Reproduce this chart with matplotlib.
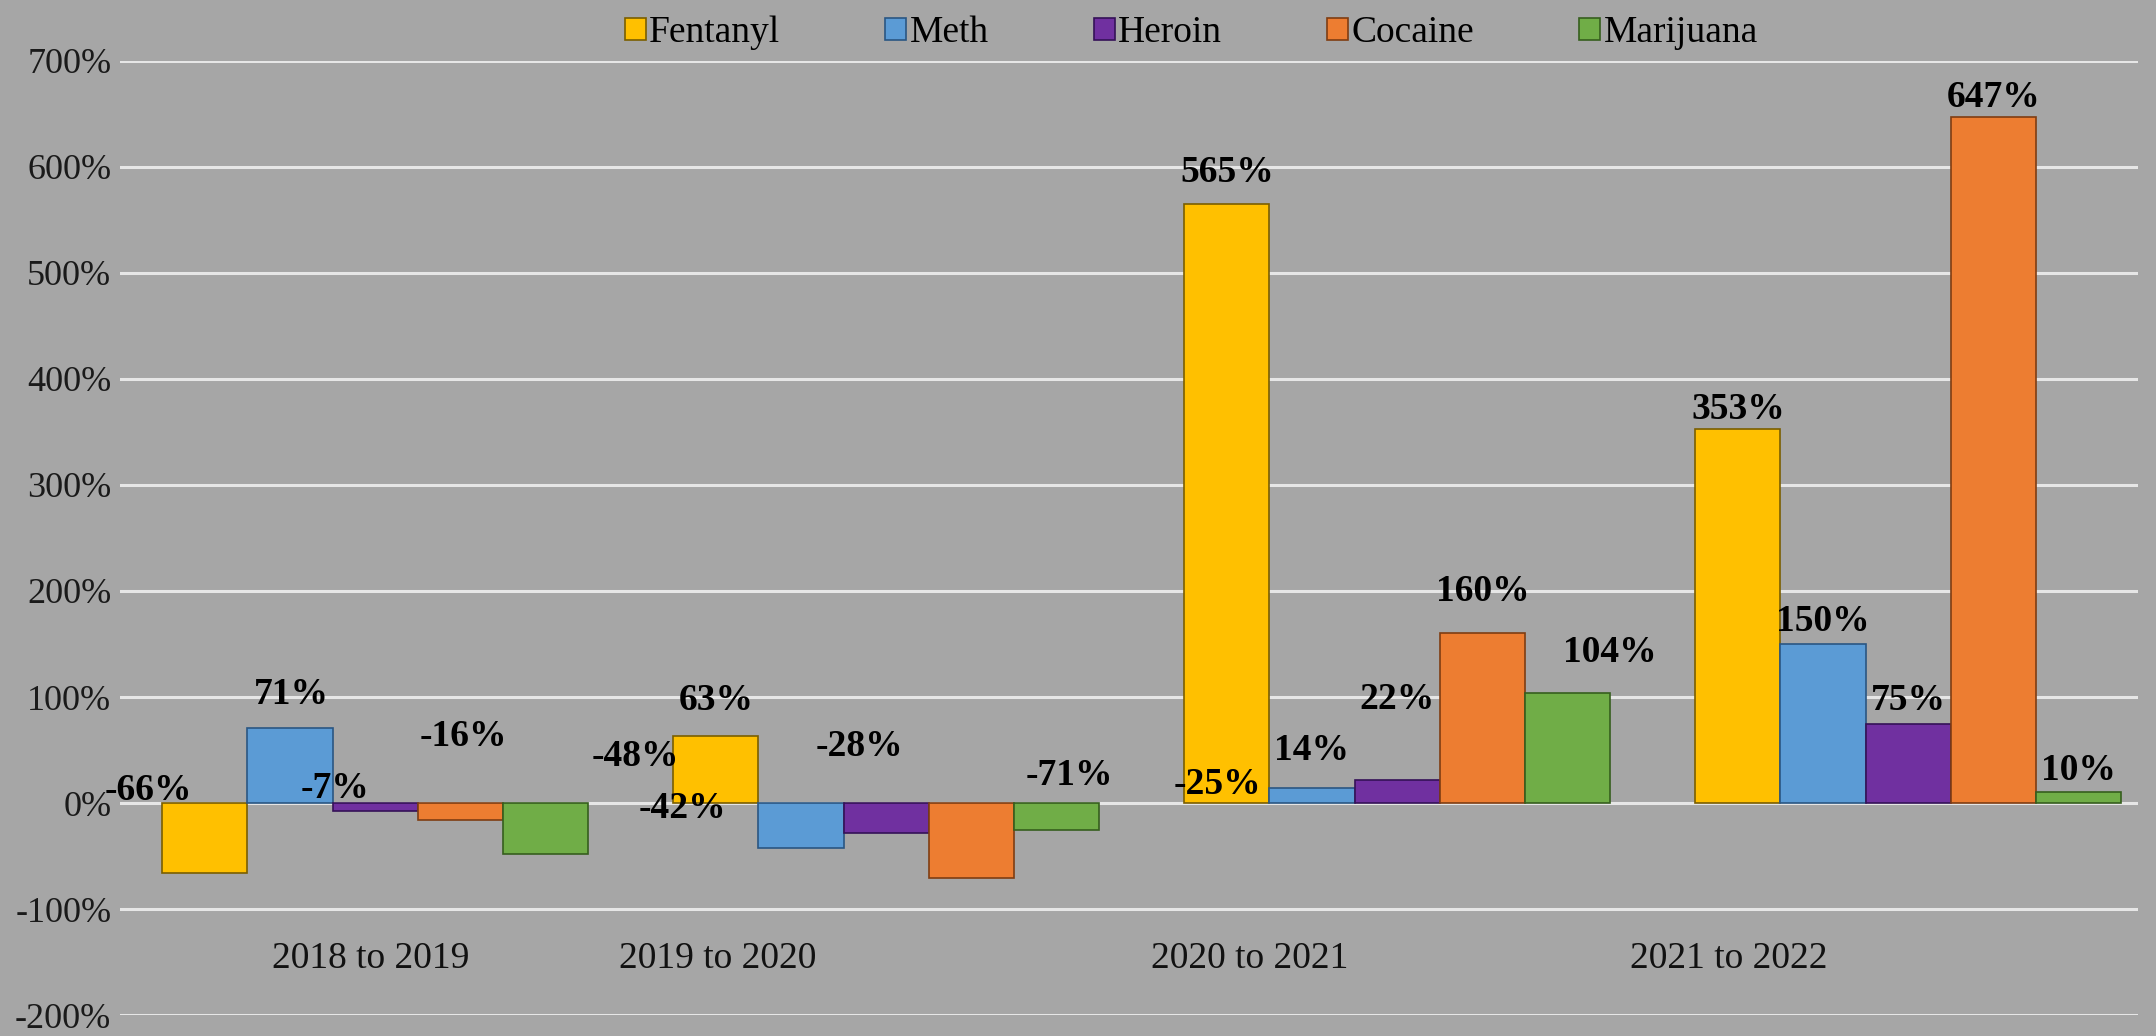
import numpy as np
import matplotlib.pyplot as plt

plt.rcParams['font.family'] = ['Liberation Serif', 'DejaVu Serif']

periods = ['2018 to 2019', '2019 to 2020', '2020 to 2021', '2021 to 2022']
drugs = ['Fentanyl', 'Meth', 'Heroin', 'Cocaine', 'Marijuana']
colors = ['#ffc000', '#5b9bd5', '#7030a0', '#ed7d31', '#70ad47']
edges = ['#7a5e00', '#2a5683', '#351157', '#7f3d12', '#365e1e']

fentanyl = [-66, 63, 565, 353]
meth = [71, -42, 14, 150]
heroin = [-7, -28, 22, 75]
cocaine = [-16, -71, 160, 647]
marijuana = [-48, -25, 104, 10]
series = [fentanyl, meth, heroin, cocaine, marijuana]

# the value labels in the original are scattered around, so nudge them
# dx in bar widths, dy in percent points (from the bar end)
label_dx = [[-0.66, 0, 0, 0],
            [0.02, -1.39, 0, 0],
            [-0.47, -0.31, 0, 0],
            [0.03, 1.15, 0, 0],
            [1.05, 1.89, 0.5, 0]]
label_dy = [[78, 34, 29, 18],
            [31, 37, 36, 21],
            [21, 81, 76, 22],
            [79, 97, 39, 18],
            [92, 43, 38, 21]]
# category labels sit off-centre too
cat_dx = [-0.05, -1.98, -1.73, -2.11]

bg = '#a6a6a6'
width = 1.0
group_gap = 6
x = np.arange(len(periods)) * group_gap

fig = plt.figure(figsize=(21.56, 10.36), dpi=100, facecolor=bg)
ax = fig.add_axes([0.0555, 0.02, 0.9362, 0.9216])
ax.set_facecolor(bg)

for i in range(len(drugs)):
    pos = x + (i - 2) * width
    ax.bar(pos, series[i], width, color=colors[i], edgecolor=edges[i],
           linewidth=1.2, label=drugs[i], zorder=3)
    for j in range(len(periods)):
        v = series[i][j]
        ax.text(pos[j] + label_dx[i][j], v + label_dy[i][j], '%d%%' % v,
                ha='center', va='center', fontsize=27, fontweight='bold',
                color='black', zorder=5)

for j in range(len(periods)):
    ax.text(x[j] + cat_dx[j], -147, periods[j], ha='center', va='center',
            fontsize=27, color='#111111')

ax.set_xlim(-3, 20.7)
ax.set_ylim(-200, 700)
ax.set_yticks(np.arange(-200, 701, 100))
ax.set_yticklabels(['%d%%' % t for t in np.arange(-200, 701, 100)], fontsize=26, color='#1a1a1a')
ax.tick_params(axis='y', length=0, pad=6)
ax.set_xticks([])
ax.grid(axis='y', color='#e6e6e6', linewidth=2.2, zorder=0)
ax.set_axisbelow(True)
for s in ax.spines.values():
    s.set_visible(False)

leg = ax.legend(loc='lower center', bbox_to_anchor=(0.531, 0.995), ncol=5,
                frameon=False, fontsize=27, handlelength=0.55, handleheight=0.55,
                handletextpad=0.1, columnspacing=2.8, borderaxespad=0)

plt.savefig('out.png', dpi=100, facecolor=bg)
